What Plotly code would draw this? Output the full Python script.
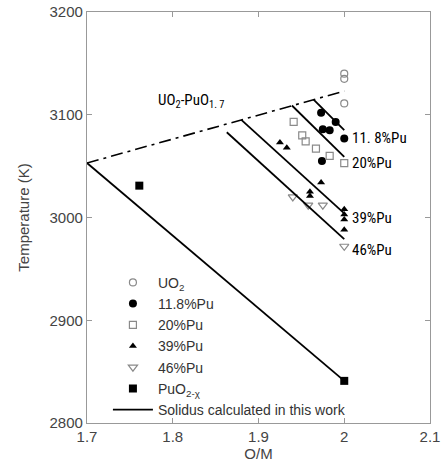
import plotly.graph_objects as go

# measured points (O/M, temperature K)
uo2_x = [2.0, 2.0, 2.0]
uo2_y = [3140, 3135, 3111]

pu118_x = [1.973, 1.990, 1.975, 1.983, 2.0, 1.974]
pu118_y = [3102, 3093, 3086, 3085, 3077, 3055]

pu20_x = [1.941, 1.951, 1.955, 1.967, 1.983, 2.0]
pu20_y = [3093, 3080, 3074, 3067, 3060, 3053]

pu39_x = [1.925, 1.933, 1.973, 1.960, 1.960, 2.0, 2.0, 2.0, 2.0]
pu39_y = [3073, 3068, 3034, 3025, 3021, 3008, 3003, 2998, 2988]

pu46_x = [1.940, 1.958, 1.975, 2.0]
pu46_y = [3020, 3012, 3012, 2972]

puo2_x = [1.761, 2.0]
puo2_y = [3031, 2841]

# UO2-PuO1.7 tie line
tie_x = [1.7, 2.0]
tie_y = [3053, 3123]

# calculated solidus lines: (start O/M, start T, end O/M, end T)
solidus = [
    (1.964, 3115, 2.0, 3085),   # 11.8%Pu
    (1.939, 3109, 2.0, 3059),   # 20%Pu
    (1.880, 3095, 2.0, 3004),   # 39%Pu
    (1.863, 3083, 2.0, 2979),   # 46%Pu
    (1.7, 3053, 2.0, 2841),     # PuO2-x
]

labels = ["11. 8%Pu", "20%Pu", "39%Pu", "46%Pu"]
label_y = [3077, 3053, 3000, 2968]

grey = "#8a8a8a"
font = "Liberation Sans, Arial, sans-serif"
narrow = "Liberation Sans Narrow, Roboto Condensed, DejaVu Sans Condensed, sans-serif"

fig = go.Figure()

fig.add_trace(go.Scatter(x=tie_x, y=tie_y, mode="lines", showlegend=False,
                         line=dict(color="black", width=1.6, dash="12px,5px,3px,5px")))

sx, sy = [], []
for x0, y0, x1, y1 in solidus:
    sx += [x0, x1, None]
    sy += [y0, y1, None]

fig.add_trace(go.Scatter(x=uo2_x, y=uo2_y, mode="markers", name="UO<sub>2</sub>",
                         marker=dict(symbol="circle-open", size=7, color=grey, line=dict(width=1.2))))
fig.add_trace(go.Scatter(x=pu118_x, y=pu118_y, mode="markers", name="11.8%Pu",
                         marker=dict(symbol="circle", size=8, color="black")))
fig.add_trace(go.Scatter(x=pu20_x, y=pu20_y, mode="markers", name="20%Pu",
                         marker=dict(symbol="square-open", size=7, color=grey, line=dict(width=1.2))))
fig.add_trace(go.Scatter(x=pu39_x, y=pu39_y, mode="markers", name="39%Pu",
                         marker=dict(symbol="triangle-up", size=7, color="black")))
fig.add_trace(go.Scatter(x=pu46_x, y=pu46_y, mode="markers", name="46%Pu",
                         marker=dict(symbol="triangle-down-open", size=8, color=grey, line=dict(width=1.2))))
fig.add_trace(go.Scatter(x=puo2_x, y=puo2_y, mode="markers", name="PuO<sub>2-χ</sub>",
                         marker=dict(symbol="square", size=8, color="black")))
fig.add_trace(go.Scatter(x=sx, y=sy, mode="lines", name="Solidus calculated in this work",
                         line=dict(color="black", width=1.8)))

for t, yv in zip(labels, label_y):
    fig.add_annotation(x=2.007, y=yv, text=t, xref="x", yref="y", xanchor="left",
                       showarrow=False, font=dict(family=narrow, size=15, color="black"))

fig.add_annotation(x=1.78, y=3113, text="UO<sub>2</sub>-PuO<sub>1. 7</sub>", xref="x", yref="y",
                   xanchor="left", showarrow=False,
                   font=dict(family=narrow, size=15, color="black"))

axis = dict(showline=True, linecolor="#999999", linewidth=1.2, mirror="ticks",
            ticks="inside", ticklen=5, tickcolor="#999999", showgrid=False, zeroline=False,
            ticklabeloverflow="allow",
            tickfont=dict(family=font, size=15, color="#444444"))

fig.update_xaxes(range=[1.7, 2.1], tickvals=[1.7, 1.8, 1.9, 2.0, 2.1],
                 title=dict(text="O/M", standoff=4, font=dict(family=font, size=15, color="#444444")),
                 **axis)
fig.update_yaxes(range=[2800, 3200], tickvals=[2800, 2900, 3000, 3100, 3200],
                 title=dict(text="Temperature (K)", standoff=16,
                            font=dict(family=font, size=15, color="#444444")),
                 **axis)

fig.update_layout(
    width=448, height=473,
    margin=dict(l=87, r=18, t=12, b=50, autoexpand=False),
    plot_bgcolor="white", paper_bgcolor="white",
    legend=dict(x=0.061, y=0.38, xanchor="left", yanchor="top", bgcolor="rgba(0,0,0,0)",
                font=dict(family=font, size=14, color="#333333"), tracegroupgap=0,
                itemwidth=40),
)

# drop the default 8px page margin so the figure sits at the window's corner
fig.write_html("out.html", config={"displayModeBar": False},
               post_script="document.body.style.margin='0px';")
